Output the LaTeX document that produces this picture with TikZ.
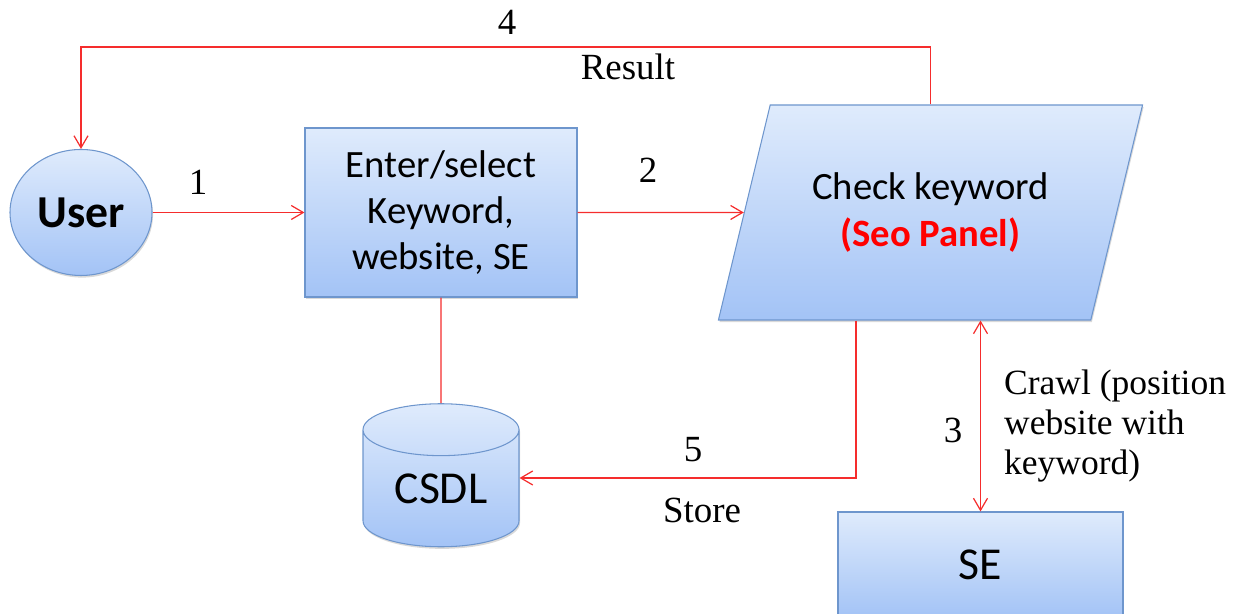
\documentclass[tikz,border=0pt]{standalone}
\usepackage{fontspec}
\setmainfont{Liberation Serif}
\newfontfamily\calibri{Carlito}
\usepackage{tikz}
\usetikzlibrary{shapes.geometric,arrows.meta,shadows}
\usepackage{xcolor}
\definecolor{cajaborde}{RGB}{110,150,205}
\definecolor{cajaarriba}{RGB}{223,235,252}
\definecolor{cajaabajo}{RGB}{163,195,246}
\definecolor{flecha}{RGB}{245,45,45}

\begin{document}
\begin{tikzpicture}[
        caja/.style={draw=cajaborde, line width=0.6pt, top color=cajaarriba, bottom color=cajaabajo,
            drop shadow={shadow xshift=0.6pt, shadow yshift=-1.2pt, opacity=0.3},
            align=center, inner sep=0pt, font=\calibri\fontsize{22}{26}\selectfont},
        grande/.style={font=\calibri\fontsize{26}{30}\selectfont},
        enlace/.style={draw=flecha, line width=0.7pt},
        ida/.style={-{Straight Barb[length=2.4mm,width=2.8mm]}},
        idavuelta/.style={{Straight Barb[length=2.4mm,width=2.8mm]}-{Straight Barb[length=2.4mm,width=2.8mm]}},
        etiqueta/.style={font=\fontsize{21}{23}\selectfont}
    ]

        % Marco
        \useasboundingbox (0,0) rectangle (24.96,12.28);

        % Nodos
        \node[caja, ellipse, minimum width=2.84cm, minimum height=2.52cm,
            font=\calibri\bfseries\fontsize{26}{30}\selectfont] (user) at (1.62,8.03) {User};
        \node[caja, rectangle, minimum width=5.44cm, minimum height=3.38cm] (entrada) at (8.82,8.03)
            {Enter/select\\Keyword,\\website, SE};
        \node[caja, trapezium, trapezium left angle=64.5, trapezium right angle=115.5, trapezium stretches=true,
            minimum width=8.5cm, minimum height=4.3cm, font=\calibri\fontsize{22}{27}\selectfont] (panel) at (18.61,8.03)
            {Check keyword\\\textcolor{red}{\bfseries(Seo Panel)}};
        \node[caja, grande, cylinder, shape border rotate=90, aspect=0.56,
            minimum width=3.12cm, minimum height=2.86cm] (csdl) at (8.82,2.51) {CSDL};
        \node[caja, grande, rectangle, minimum width=5.7cm, minimum height=2.12cm] (se) at (19.61,0.98) {SE};

        % Puntos de giro
        \coordinate (giro) at (1.62,11.34);
        \path (panel.center) ++(-1.49,0) coordinate (bajada);
        \coordinate (guarda) at (8.82,2.72);

        % Conectores
        \draw[enlace, ida] (user) -- (entrada);
        \draw[enlace, ida] (entrada) -- (panel);
        \draw[enlace, ida] (panel.center |- panel.north) |- (giro) -- (user);
        \draw[enlace, ida] (bajada |- panel.south) |- (guarda -| csdl.east);
        \draw[enlace, idavuelta] (se.north |- panel.south) -- (se.north);
        \draw[enlace] (entrada) -- (csdl);

        % Etiquetas
        \node[etiqueta] (n1) at (3.96,8.64) {1};
        \node[etiqueta] (n2) at (12.96,8.88) {2};
        \node[etiqueta] (n4) at (10.14,11.84) {4};
        \node[etiqueta] (result) at (12.56,10.94) {Result};
        \node[etiqueta] (n5) at (13.86,3.28) {5};
        \node[etiqueta] (store) at (14.04,2.08) {Store};
        \node[etiqueta] (n3) at (19.06,3.68) {3};
        \node[etiqueta, anchor=west, align=left, font=\fontsize{20.2}{22.9}\selectfont] (crawl) at (19.96,3.76)
            {Crawl (position\\website with\\keyword)};

\end{tikzpicture}
\end{document}
